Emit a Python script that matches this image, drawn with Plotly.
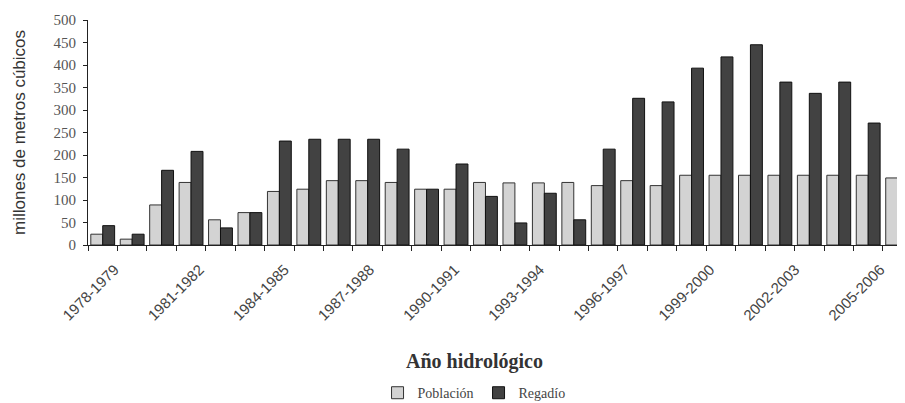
import plotly.graph_objects as go

years = [f"{y}-{y+1}" for y in range(1978, 2006)]
poblacion = [24, 13, 89, 139, 56, 72, 119, 124, 143, 143, 139, 124, 124, 139,
             138, 138, 139, 132, 143, 132, 155, 155, 155, 155, 155, 155, 155, 149]
regadio = [43, 24, 166, 208, 38, 72, 231, 235, 235, 235, 213, 124, 180, 108,
           49, 115, 56, 213, 326, 318, 393, 418, 445, 362, 337, 362, 271, 38]
y_ticks = [0, 50, 100, 150, 200, 250, 300, 350, 400, 450, 500]

xs = list(range(len(years)))
label_idx = xs[::3]
# label anchor positions (slight drift as in the original rendering)
label_pos = [i - 0.11 * k + 0.4 for k, i in enumerate(label_idx)]

fig = go.Figure()
fig.add_trace(go.Bar(x=xs, y=poblacion, name="Población",
                     marker=dict(color="#d3d3d3", line=dict(color="#333333", width=1))))
fig.add_trace(go.Bar(x=xs, y=regadio, name="Regadío",
                     marker=dict(color="#424242", line=dict(color="#111111", width=1))))

serif = "Liberation Serif, Times New Roman, serif"
sans = "Liberation Sans, Arial, sans-serif"

# the page body adds an 8px margin, so the figure is 8px smaller than the window
fig.update_layout(
    width=897, height=395,
    margin=dict(l=80, r=0, t=12, b=158),
    paper_bgcolor="white", plot_bgcolor="white",
    barmode="group", bargap=0.19, bargroupgap=0,
    showlegend=True,
    legend=dict(orientation="h", x=0.4725, xanchor="center",
                yref="container", y=0.025, yanchor="middle",
                font=dict(family=serif, size=14, color="#444444"),
                itemwidth=30, tracegroupgap=0, bgcolor="rgba(0,0,0,0)"),
    xaxis=dict(
        range=[-0.5, 27.25], showgrid=False, zeroline=False, automargin=False,
        showline=True, linecolor="#222222", linewidth=1,
        tickmode="array", tickvals=label_pos, ticktext=[years[i] for i in label_idx],
        tickangle=-45, ticks="outside", ticklen=0, ticklabelstandoff=9,
        tickfont=dict(family=sans, size=15, color="#444444"),
        minor=dict(tickmode="array", tickvals=[i - 0.5 for i in range(len(years) + 1)],
                   ticks="outside", ticklen=5, tickcolor="#222222", tickwidth=1),
    ),
    yaxis=dict(
        range=[0, 500], tickmode="array", tickvals=y_ticks, automargin=False,
        showgrid=False, zeroline=False,
        showline=True, linecolor="#222222", linewidth=1,
        ticks="outside", ticklen=4, tickcolor="#222222", ticklabelstandoff=4,
        tickfont=dict(family=serif, size=15, color="#555555"),
    ),
    annotations=[
        dict(text="<b>Año hidrológico</b>", x=0.4725, y=-0.516, xref="paper", yref="paper",
             showarrow=False, xanchor="center", yanchor="middle",
             font=dict(family=serif, size=20, color="#333333")),
        dict(text="millones de metros cúbicos", x=-0.0845, y=0.502, xref="paper", yref="paper",
             showarrow=False, textangle=-90, xanchor="center", yanchor="middle",
             font=dict(family=sans, size=17, color="#333333")),
    ],
)

fig.write_html("out.html")
